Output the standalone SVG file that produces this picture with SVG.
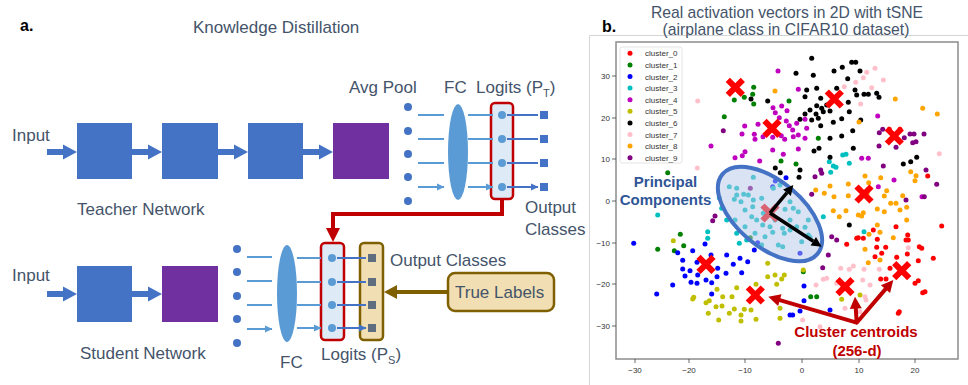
<svg xmlns="http://www.w3.org/2000/svg" width="968" height="385" viewBox="0 0 968 385">
<style>
text{font-family:"Liberation Sans",Arial,sans-serif}
.lbl{fill:#44546A;font-size:17px}
.ttl{fill:#44546A;font-size:15.7px;text-anchor:middle}
.tick{fill:#333;font-size:8px}
.tl{font-size:8px;fill:#333}
.sa{stroke:#5B9BD5;stroke-width:2;fill:none;marker-end:url(#ha)}
.da{stroke:#4472C4;stroke-width:2;fill:none;marker-end:url(#hb)}
.blue{fill:#4472C4}
.purp{fill:#7030A0}
.c0{fill:#FF0000}.c1{fill:#008000}.c2{fill:#0000FF}.c3{fill:#00BFBF}.c4{fill:#BF00BF}
.c5{fill:#BFBF00}.c6{fill:#000000}.c7{fill:#FFC0CB}.c8{fill:#FFA500}.c9{fill:#800080}
.xm{stroke:#FF0000;stroke-width:6;fill:none}
</style>
<defs>
<marker id="ha" markerWidth="8" markerHeight="8" refX="7" refY="4" orient="auto" markerUnits="userSpaceOnUse"><path d="M0,0.5 L7.5,4 L0,7.5 Z" fill="#5B9BD5"/></marker>
<marker id="hb" markerWidth="8" markerHeight="8" refX="7" refY="4" orient="auto" markerUnits="userSpaceOnUse"><path d="M0,0.5 L7.5,4 L0,7.5 Z" fill="#4472C4"/></marker>
<path id="big" d="M0,-3 H16 V-7.5 L30,0 L16,7.5 V3 H0 Z" fill="#4472C4"/>
<path id="xx" d="M-7.5,-7.5 L7.5,7.5 M-7.5,7.5 L7.5,-7.5" class="xm"/>
</defs>
<rect width="968" height="385" fill="#fff"/>

<!-- LEFT PANEL -->
<text x="20" y="31" font-size="16" font-weight="bold" fill="#000">a.</text>
<text x="193" y="33" class="lbl" font-size="16">Knowledge Distillation</text>

<g id="teacher">
<text x="12" y="141" class="lbl" font-size="18">Input</text>
<use href="#big" x="47" y="152"/>
<rect x="77" y="123" width="55" height="56" class="blue"/>
<use href="#big" x="132" y="152"/>
<rect x="162" y="123" width="56" height="56" class="blue"/>
<use href="#big" x="218" y="152"/>
<rect x="248" y="123" width="55" height="56" class="blue"/>
<use href="#big" x="303" y="152"/>
<rect x="333" y="123" width="56" height="56" class="purp"/>
<text x="77" y="215" class="lbl">Teacher Network</text>
</g>

<g id="teacher-head">
<text x="349" y="93" class="lbl" font-size="16">Avg Pool</text>
<text x="444" y="93" class="lbl" font-size="16">FC</text>
<text x="476" y="93" class="lbl" font-size="16">Logits (P<tspan font-size="11" dy="4">T</tspan><tspan dy="-4">)</tspan></text>
<g class="blue"><circle cx="408" cy="107" r="4"/><circle cx="408" cy="131" r="4"/><circle cx="408" cy="154" r="4"/><circle cx="408" cy="177" r="4"/><circle cx="408" cy="201" r="4"/></g>
<ellipse cx="458" cy="152" rx="10" ry="48" fill="#5B9BD5"/>
<rect x="491" y="103" width="22" height="96" rx="4" fill="#DEEBF7" stroke="#C00000" stroke-width="2.5"/>
<g fill="#5B9BD5"><circle cx="502" cy="115" r="4"/><circle cx="502" cy="139" r="4"/><circle cx="502" cy="163" r="4"/><circle cx="502" cy="187" r="4"/></g>
<g class="blue"><rect x="540" y="111" width="8" height="8"/><rect x="540" y="135" width="8" height="8"/><rect x="540" y="159" width="8" height="8"/><rect x="540" y="183" width="8" height="8"/></g>
<text x="525" y="213" class="lbl">Output</text>
<text x="525" y="235" class="lbl">Classes</text>
</g>

<g id="student">
<text x="12" y="281" class="lbl" font-size="18">Input</text>
<use href="#big" x="47" y="294"/>
<rect x="77" y="266" width="55" height="56" class="blue"/>
<use href="#big" x="132" y="294"/>
<rect x="162" y="266" width="56" height="56" class="purp"/>
<text x="80" y="359" class="lbl">Student Network</text>
</g>

<g id="student-head">
<g class="blue"><circle cx="237" cy="249" r="4"/><circle cx="237" cy="272" r="4"/><circle cx="237" cy="296" r="4"/><circle cx="237" cy="319" r="4"/><circle cx="237" cy="343" r="4"/></g>
<ellipse cx="287" cy="293.5" rx="10" ry="48.5" fill="#5B9BD5"/>
<text x="280" y="368" class="lbl" font-size="16">FC</text>
<rect x="321" y="243" width="23" height="97" rx="4" fill="#DEEBF7" stroke="#C00000" stroke-width="2.5"/>
<g fill="#5B9BD5"><circle cx="332" cy="258" r="4"/><circle cx="332" cy="282" r="4"/><circle cx="332" cy="305" r="4"/><circle cx="332" cy="328" r="4"/></g>
<text x="321" y="360" class="lbl" font-size="16">Logits (P<tspan font-size="11" dy="4">S</tspan><tspan dy="-4">)</tspan></text>
</g>

<g id="student-out">
<rect x="360" y="243" width="23" height="97" rx="4" fill="#F1DEB2" stroke="#7F6000" stroke-width="2.5"/>
<g fill="#5E6E7E"><rect x="368" y="254" width="8" height="8"/><rect x="368" y="278" width="8" height="8"/><rect x="368" y="301" width="8" height="8"/><rect x="368" y="324" width="8" height="8"/></g>
<text x="390" y="266" class="lbl">Output Classes</text>
</g>

<g id="true-labels">
<rect x="448" y="273" width="106" height="38" rx="7" fill="#F1DEB2" stroke="#7F6000" stroke-width="2.5"/>
<text x="455" y="298" class="lbl" font-size="16.5">True Labels</text>
</g>

<g id="connectors">
<path class="sa" d="M418,115 H444 M418,139 H444 M418,163 H444 M418,187 H444"/>
<path class="sa" d="M468,115 H493 M468,139 H493 M468,163 H493 M468,187 H493"/>
<path class="da" d="M507,115 H538 M507,139 H538 M507,163 H538 M507,187 H538"/>
<path class="sa" d="M247,257 H272 M247,281 H272 M247,305 H272 M247,329 H272"/>
<path class="sa" d="M297,258 H321 M297,282 H321 M297,305 H321 M297,328 H321"/>
<path class="da" d="M337,258 H366 M337,282 H366 M337,305 H366 M337,328 H366"/>
<path d="M502,199 V214 H333 V229" fill="none" stroke="#C00000" stroke-width="4"/>
<path d="M326,228 L340,228 L333,242 Z" fill="#C00000"/>
<path d="M448,292 H396" fill="none" stroke="#7F6000" stroke-width="4"/>
<path d="M397,285 L384,292 L397,299 Z" fill="#7F6000"/>
</g>

<!-- divider -->
<path d="M589.5,385 V35.5 H968" fill="none" stroke="#D4D4D4" stroke-width="1"/>

<!-- RIGHT PANEL -->
<text x="602" y="32" font-size="16" font-weight="bold" fill="#000">b.</text>
<text x="787" y="18" class="ttl">Real activation vectors in 2D with tSNE</text>
<text x="786" y="35" class="ttl">(airplane class in CIFAR10 dataset)</text>

<g id="axes">
<rect x="616" y="42" width="342" height="317" fill="#fff" stroke="#8C8C8C" stroke-width="1.5"/>
<path d="M612,76 H616 M612,118 H616 M612,159 H616 M612,201 H616 M612,243 H616 M612,284 H616 M612,326 H616 M635,359 V363 M689,359 V363 M745,359 V363 M802,359 V363 M859,359 V363 M915,359 V363" stroke="#444" stroke-width="0.8"/>
<g class="tick" text-anchor="end">
<text x="610" y="79">30</text><text x="610" y="121">20</text><text x="610" y="162">10</text><text x="610" y="204">0</text><text x="610" y="246">−10</text><text x="610" y="287">−20</text><text x="610" y="329">−30</text>
</g>
<g class="tick" text-anchor="middle">
<text x="635" y="373">−30</text><text x="689" y="373">−20</text><text x="745" y="373">−10</text><text x="802" y="373">0</text><text x="859" y="373">10</text><text x="915" y="373">20</text>
</g>
</g>

<g id="dots">
<g class="c0">
<circle cx="941.7" cy="226" r="2.5"/><circle cx="896" cy="226.7" r="2.5"/><circle cx="873.3" cy="230" r="2.5"/><circle cx="877.3" cy="239.3" r="2.5"/><circle cx="858.3" cy="237.7" r="2.5"/><circle cx="846.7" cy="244.3" r="2.5"/><circle cx="885.7" cy="247.3" r="2.5"/><circle cx="876.7" cy="247.3" r="2.5"/><circle cx="875" cy="256.7" r="2.5"/><circle cx="881.7" cy="253.3" r="2.5"/><circle cx="907.7" cy="235" r="2.5"/><circle cx="906" cy="240" r="2.5"/><circle cx="919.3" cy="246.7" r="2.5"/><circle cx="921.7" cy="248.3" r="2.5"/><circle cx="907.3" cy="254" r="2.5"/><circle cx="896.7" cy="257.3" r="2.5"/><circle cx="918.3" cy="260.7" r="2.5"/><circle cx="933.3" cy="258.3" r="2.5"/><circle cx="890" cy="268.3" r="2.5"/><circle cx="880.7" cy="279" r="2.5"/><circle cx="886" cy="279" r="2.5"/><circle cx="918.3" cy="280.7" r="2.5"/><circle cx="922.7" cy="292.7" r="2.5"/><circle cx="925" cy="291.7" r="2.5"/><circle cx="898.3" cy="313.3" r="2.5"/><circle cx="899.3" cy="311.7" r="2.5"/><circle cx="927.7" cy="176" r="2.5"/><circle cx="863.3" cy="238.3" r="2.5"/><circle cx="908.3" cy="240" r="2.5"/><circle cx="856.7" cy="238.3" r="2.5"/><circle cx="915" cy="283.3" r="2.5"/><circle cx="889.3" cy="129.3" r="2.5"/><circle cx="900" cy="129.3" r="2.5"/>
</g>
<g class="c1">
<circle cx="753.7" cy="87.3" r="2.5"/><circle cx="752.7" cy="94.3" r="2.5"/><circle cx="744.3" cy="97.3" r="2.5"/><circle cx="734.3" cy="100" r="2.5"/><circle cx="753.7" cy="104" r="2.5"/><circle cx="789" cy="101" r="2.5"/><circle cx="724.3" cy="116.7" r="2.5"/><circle cx="781" cy="161" r="2.5"/><circle cx="818.3" cy="138.3" r="2.5"/><circle cx="796" cy="164" r="2.5"/><circle cx="680.3" cy="234.3" r="2.5"/><circle cx="683.7" cy="245.7" r="2.5"/><circle cx="657.7" cy="249.3" r="2.5"/><circle cx="674.3" cy="250.7" r="2.5"/><circle cx="750.3" cy="237.7" r="2.5"/><circle cx="803.3" cy="271.7" r="2.5"/><circle cx="810.7" cy="296.7" r="2.5"/><circle cx="816.7" cy="296.7" r="2.5"/><circle cx="667.7" cy="172.7" r="2.5"/>
</g>
<g class="c2">
<circle cx="633.7" cy="243.3" r="2.5"/><circle cx="705" cy="244" r="2.5"/><circle cx="692.7" cy="250.7" r="2.5"/><circle cx="677.7" cy="252.7" r="2.5"/><circle cx="682.7" cy="260.3" r="2.5"/><circle cx="697" cy="262.3" r="2.5"/><circle cx="682.7" cy="269" r="2.5"/><circle cx="690" cy="270.7" r="2.5"/><circle cx="685" cy="276" r="2.5"/><circle cx="697.7" cy="275" r="2.5"/><circle cx="691" cy="282.3" r="2.5"/><circle cx="697" cy="283.3" r="2.5"/><circle cx="706" cy="280" r="2.5"/><circle cx="711.7" cy="282.7" r="2.5"/><circle cx="717" cy="276.7" r="2.5"/><circle cx="726" cy="273.3" r="2.5"/><circle cx="717.7" cy="268.3" r="2.5"/><circle cx="711" cy="255" r="2.5"/><circle cx="726.7" cy="255" r="2.5"/><circle cx="733.3" cy="264.3" r="2.5"/><circle cx="740" cy="258.3" r="2.5"/><circle cx="747.7" cy="261.7" r="2.5"/><circle cx="741.7" cy="272.7" r="2.5"/><circle cx="672.7" cy="285" r="2.5"/><circle cx="656.7" cy="294" r="2.5"/><circle cx="711.7" cy="294" r="2.5"/><circle cx="757.7" cy="242.7" r="2.5"/><circle cx="754.3" cy="250" r="2.5"/><circle cx="790" cy="315" r="2.5"/><circle cx="786" cy="177.7" r="2.5"/><circle cx="775.3" cy="181" r="2.5"/><circle cx="772.7" cy="186.7" r="2.5"/><circle cx="800" cy="253.3" r="2.5"/><circle cx="804" cy="286" r="2.5"/><circle cx="804" cy="300.7" r="2.5"/><circle cx="800" cy="311" r="2.5"/><circle cx="830" cy="310" r="2.5"/><circle cx="792.7" cy="315" r="2.5"/>
</g>
<g class="c3">
<circle cx="657.7" cy="215" r="2.5"/><circle cx="707.7" cy="231.7" r="2.5"/><circle cx="707.7" cy="238.3" r="2.5"/><circle cx="739.3" cy="243.3" r="2.5"/><circle cx="842.7" cy="155" r="2.5"/><circle cx="846" cy="154.3" r="2.5"/><circle cx="833.3" cy="166" r="2.5"/><circle cx="836" cy="167.3" r="2.5"/><circle cx="829.3" cy="161.7" r="2.5"/><circle cx="830.7" cy="172.3" r="2.5"/><circle cx="849.3" cy="163.3" r="2.5"/><circle cx="864" cy="231.7" r="2.5"/><circle cx="823.3" cy="216.7" r="2.5"/>
<circle cx="753.3" cy="177.3" r="2.5"/><circle cx="729.3" cy="186.7" r="2.5"/><circle cx="743.7" cy="194.3" r="2.5"/><circle cx="719.3" cy="197.7" r="2.5"/><circle cx="734.3" cy="199.3" r="2.5"/><circle cx="736.7" cy="188.3" r="2.5"/><circle cx="721.7" cy="208.3" r="2.5"/><circle cx="726.7" cy="220" r="2.5"/><circle cx="735" cy="220" r="2.5"/><circle cx="745" cy="210" r="2.5"/><circle cx="753.3" cy="200" r="2.5"/><circle cx="761.7" cy="198.3" r="2.5"/><circle cx="773.3" cy="188.3" r="2.5"/><circle cx="780" cy="185" r="2.5"/><circle cx="790" cy="201.7" r="2.5"/><circle cx="793.3" cy="208.3" r="2.5"/><circle cx="798.3" cy="211.7" r="2.5"/><circle cx="790" cy="220" r="2.5"/><circle cx="782.7" cy="228.3" r="2.5"/><circle cx="796.7" cy="226.7" r="2.5"/><circle cx="808.3" cy="235" r="2.5"/><circle cx="756.7" cy="220" r="2.5"/><circle cx="755" cy="233.3" r="2.5"/><circle cx="765" cy="236.7" r="2.5"/><circle cx="770" cy="226.7" r="2.5"/><circle cx="745" cy="226.7" r="2.5"/><circle cx="746.7" cy="240" r="2.5"/><circle cx="736.7" cy="233.3" r="2.5"/><circle cx="763.3" cy="213.3" r="2.5"/><circle cx="751.7" cy="216.7" r="2.5"/><circle cx="775" cy="220" r="2.5"/><circle cx="790" cy="230" r="2.5"/><circle cx="778.3" cy="245" r="2.5"/><circle cx="761.7" cy="245" r="2.5"/><circle cx="736.7" cy="195" r="2.5"/><circle cx="748.3" cy="195" r="2.5"/><circle cx="785" cy="209.3" r="2.5"/><circle cx="808.3" cy="220" r="2.5"/><circle cx="741" cy="201.7" r="2.5"/><circle cx="752.7" cy="206.7" r="2.5"/><circle cx="762.7" cy="225" r="2.5"/><circle cx="772.7" cy="232.3" r="2.5"/><circle cx="784.3" cy="233.3" r="2.5"/><circle cx="782.7" cy="246.7" r="2.5"/><circle cx="805" cy="227.3" r="2.5"/><circle cx="810" cy="237.3" r="2.5"/><circle cx="801.7" cy="241.7" r="2.5"/>
</g>
<g class="c4">
<circle cx="778" cy="71" r="2.5"/><circle cx="773" cy="107.7" r="2.5"/><circle cx="775.3" cy="112.7" r="2.5"/><circle cx="781.7" cy="106" r="2.5"/><circle cx="787" cy="110.7" r="2.5"/><circle cx="779.3" cy="117.7" r="2.5"/><circle cx="786.3" cy="121" r="2.5"/><circle cx="789.3" cy="125.7" r="2.5"/><circle cx="744.7" cy="126" r="2.5"/><circle cx="758" cy="124.3" r="2.5"/><circle cx="754.3" cy="134.3" r="2.5"/><circle cx="742" cy="134" r="2.5"/><circle cx="755" cy="139.3" r="2.5"/><circle cx="763" cy="136.7" r="2.5"/><circle cx="772.7" cy="137.3" r="2.5"/><circle cx="781.3" cy="135.7" r="2.5"/><circle cx="784.7" cy="139.3" r="2.5"/><circle cx="711" cy="146" r="2.5"/><circle cx="735" cy="157.7" r="2.5"/><circle cx="742.3" cy="155.7" r="2.5"/><circle cx="745" cy="151.7" r="2.5"/><circle cx="759.7" cy="161" r="2.5"/><circle cx="772.7" cy="150" r="2.5"/><circle cx="783.3" cy="154.3" r="2.5"/><circle cx="798.3" cy="89.3" r="2.5"/><circle cx="805" cy="119.3" r="2.5"/><circle cx="796.7" cy="123.3" r="2.5"/><circle cx="806.7" cy="128.3" r="2.5"/><circle cx="805" cy="138.3" r="2.5"/><circle cx="798.3" cy="135" r="2.5"/><circle cx="792.7" cy="130" r="2.5"/><circle cx="793.3" cy="136.7" r="2.5"/><circle cx="877.7" cy="116" r="2.5"/><circle cx="861.7" cy="158.3" r="2.5"/><circle cx="868.3" cy="158.3" r="2.5"/><circle cx="894" cy="180" r="2.5"/><circle cx="878.3" cy="186.7" r="2.5"/><circle cx="922" cy="196.7" r="2.5"/><circle cx="798.3" cy="149" r="2.5"/>
</g>
<g class="c5">
<circle cx="673.3" cy="240.7" r="2.5"/><circle cx="767.7" cy="263.3" r="2.5"/><circle cx="767.7" cy="276.7" r="2.5"/><circle cx="775" cy="275" r="2.5"/><circle cx="781.7" cy="279" r="2.5"/><circle cx="776.7" cy="284.3" r="2.5"/><circle cx="756" cy="284.3" r="2.5"/><circle cx="736.7" cy="287.7" r="2.5"/><circle cx="717" cy="289.3" r="2.5"/><circle cx="722.7" cy="296.7" r="2.5"/><circle cx="732" cy="296.7" r="2.5"/><circle cx="693.7" cy="297.3" r="2.5"/><circle cx="692.7" cy="299" r="2.5"/><circle cx="709.3" cy="300.7" r="2.5"/><circle cx="706" cy="302.7" r="2.5"/><circle cx="716" cy="306.7" r="2.5"/><circle cx="722" cy="306" r="2.5"/><circle cx="708.3" cy="313.3" r="2.5"/><circle cx="734.3" cy="309" r="2.5"/><circle cx="729.3" cy="313.3" r="2.5"/><circle cx="744.3" cy="309.3" r="2.5"/><circle cx="741" cy="315" r="2.5"/><circle cx="751" cy="310" r="2.5"/><circle cx="718.7" cy="320" r="2.5"/><circle cx="741" cy="321" r="2.5"/><circle cx="756" cy="319.3" r="2.5"/><circle cx="780" cy="308.3" r="2.5"/><circle cx="780" cy="318.3" r="2.5"/><circle cx="784.3" cy="275" r="2.5"/><circle cx="803.3" cy="270" r="2.5"/><circle cx="841.7" cy="299.3" r="2.5"/><circle cx="860" cy="295" r="2.5"/>
</g>
<g class="c6">
<circle cx="811.7" cy="58.3" r="2.5"/><circle cx="796" cy="73.3" r="2.5"/><circle cx="813.3" cy="75.3" r="2.5"/><circle cx="834" cy="71" r="2.5"/><circle cx="842.3" cy="67.3" r="2.5"/><circle cx="851.7" cy="62.3" r="2.5"/><circle cx="855.7" cy="62.3" r="2.5"/><circle cx="860" cy="71" r="2.5"/><circle cx="847.7" cy="78.7" r="2.5"/><circle cx="816.7" cy="88.3" r="2.5"/><circle cx="806.7" cy="90" r="2.5"/><circle cx="805" cy="96.7" r="2.5"/><circle cx="820.7" cy="98.3" r="2.5"/><circle cx="836.7" cy="88.3" r="2.5"/><circle cx="855" cy="90" r="2.5"/><circle cx="856.7" cy="95" r="2.5"/><circle cx="864" cy="94.3" r="2.5"/><circle cx="868.3" cy="94.3" r="2.5"/><circle cx="876.7" cy="93.3" r="2.5"/><circle cx="879" cy="97.3" r="2.5"/><circle cx="848.3" cy="102.3" r="2.5"/><circle cx="826.7" cy="105" r="2.5"/><circle cx="816.7" cy="105.7" r="2.5"/><circle cx="810" cy="110" r="2.5"/><circle cx="821.7" cy="108.3" r="2.5"/><circle cx="823.3" cy="111.7" r="2.5"/><circle cx="830" cy="111" r="2.5"/><circle cx="816" cy="114" r="2.5"/><circle cx="805" cy="114" r="2.5"/><circle cx="800" cy="119.3" r="2.5"/><circle cx="811.7" cy="120" r="2.5"/><circle cx="818.3" cy="118.3" r="2.5"/><circle cx="849.3" cy="111.7" r="2.5"/><circle cx="841.7" cy="118.7" r="2.5"/><circle cx="833.3" cy="122.3" r="2.5"/><circle cx="820.7" cy="125.7" r="2.5"/><circle cx="841.7" cy="136" r="2.5"/><circle cx="830" cy="138.3" r="2.5"/><circle cx="860.7" cy="120" r="2.5"/><circle cx="852.7" cy="130.7" r="2.5"/><circle cx="814" cy="151" r="2.5"/><circle cx="819" cy="148.3" r="2.5"/><circle cx="830" cy="157.3" r="2.5"/><circle cx="853.3" cy="148.3" r="2.5"/><circle cx="903.3" cy="164" r="2.5"/><circle cx="910.7" cy="161.7" r="2.5"/><circle cx="916.7" cy="157.3" r="2.5"/><circle cx="800" cy="170" r="2.5"/><circle cx="799" cy="177.3" r="2.5"/><circle cx="751" cy="99" r="2.5"/><circle cx="767.7" cy="101" r="2.5"/><circle cx="775.3" cy="168" r="2.5"/><circle cx="780.3" cy="172.7" r="2.5"/><circle cx="849.3" cy="225" r="2.5"/>
</g>
<g class="c7">
<circle cx="697.7" cy="101" r="2.5"/><circle cx="697.3" cy="168" r="2.5"/><circle cx="866.7" cy="72.3" r="2.5"/><circle cx="875" cy="68.3" r="2.5"/><circle cx="863.3" cy="77.7" r="2.5"/><circle cx="855.7" cy="82.3" r="2.5"/><circle cx="871.7" cy="87.7" r="2.5"/><circle cx="883.3" cy="80" r="2.5"/><circle cx="844.3" cy="86.7" r="2.5"/><circle cx="860.7" cy="104" r="2.5"/><circle cx="939.3" cy="153.7" r="2.5"/><circle cx="840.7" cy="268.3" r="2.5"/><circle cx="849.3" cy="269.3" r="2.5"/><circle cx="853.3" cy="266" r="2.5"/><circle cx="864" cy="269.3" r="2.5"/><circle cx="879.3" cy="269.3" r="2.5"/><circle cx="862.7" cy="280" r="2.5"/><circle cx="870" cy="285" r="2.5"/><circle cx="823.3" cy="279.3" r="2.5"/><circle cx="816" cy="285" r="2.5"/><circle cx="865" cy="296.7" r="2.5"/><circle cx="866" cy="300" r="2.5"/><circle cx="845" cy="308.3" r="2.5"/><circle cx="860" cy="311.7" r="2.5"/><circle cx="802.7" cy="320" r="2.5"/><circle cx="820" cy="326.7" r="2.5"/><circle cx="836.7" cy="283.3" r="2.5"/><circle cx="908.3" cy="247.7" r="2.5"/><circle cx="826.7" cy="278.3" r="2.5"/>
</g>
<g class="c8">
<circle cx="775" cy="91" r="2.5"/><circle cx="895.3" cy="99" r="2.5"/><circle cx="922.7" cy="108.3" r="2.5"/><circle cx="937.3" cy="114" r="2.5"/><circle cx="859" cy="122" r="2.5"/><circle cx="865" cy="176" r="2.5"/><circle cx="880.7" cy="177.7" r="2.5"/><circle cx="868.7" cy="182.7" r="2.5"/><circle cx="848.3" cy="184" r="2.5"/><circle cx="830" cy="186" r="2.5"/><circle cx="815.7" cy="190" r="2.5"/><circle cx="824.3" cy="193.3" r="2.5"/><circle cx="834" cy="196.7" r="2.5"/><circle cx="848.3" cy="195.7" r="2.5"/><circle cx="886.7" cy="190.7" r="2.5"/><circle cx="910.7" cy="171.7" r="2.5"/><circle cx="916" cy="175.7" r="2.5"/><circle cx="915" cy="180.7" r="2.5"/><circle cx="884.3" cy="196" r="2.5"/><circle cx="902.7" cy="195.7" r="2.5"/><circle cx="867.3" cy="192.7" r="2.5"/><circle cx="833.3" cy="210.7" r="2.5"/><circle cx="839.3" cy="216.7" r="2.5"/><circle cx="846" cy="210.7" r="2.5"/><circle cx="858.3" cy="215" r="2.5"/><circle cx="863.3" cy="212.7" r="2.5"/><circle cx="861.7" cy="216" r="2.5"/><circle cx="877.3" cy="209" r="2.5"/><circle cx="884.3" cy="211.7" r="2.5"/><circle cx="890.7" cy="203.3" r="2.5"/><circle cx="896" cy="203.3" r="2.5"/><circle cx="906.7" cy="207.3" r="2.5"/><circle cx="906.7" cy="220" r="2.5"/><circle cx="900" cy="210" r="2.5"/><circle cx="877.3" cy="225" r="2.5"/><circle cx="869" cy="234.3" r="2.5"/><circle cx="880" cy="232.3" r="2.5"/><circle cx="893.3" cy="237.7" r="2.5"/><circle cx="865" cy="249.3" r="2.5"/><circle cx="880" cy="260" r="2.5"/><circle cx="868.3" cy="262.7" r="2.5"/>
</g>
<g class="c9">
<circle cx="723.3" cy="130.7" r="2.5"/><circle cx="879.3" cy="132.7" r="2.5"/><circle cx="882.7" cy="129.3" r="2.5"/><circle cx="904.3" cy="137.7" r="2.5"/><circle cx="910" cy="134" r="2.5"/><circle cx="914" cy="134" r="2.5"/><circle cx="912.7" cy="142.7" r="2.5"/><circle cx="916" cy="141.7" r="2.5"/><circle cx="924" cy="134" r="2.5"/><circle cx="879" cy="146" r="2.5"/><circle cx="896" cy="147.3" r="2.5"/><circle cx="883.3" cy="166" r="2.5"/><circle cx="926" cy="170" r="2.5"/><circle cx="936.7" cy="184.3" r="2.5"/><circle cx="820.7" cy="170" r="2.5"/><circle cx="815" cy="176.7" r="2.5"/><circle cx="821.7" cy="173.3" r="2.5"/><circle cx="924.3" cy="196.7" r="2.5"/><circle cx="906" cy="200" r="2.5"/><circle cx="811.7" cy="194.3" r="2.5"/><circle cx="750.3" cy="188.3" r="2.5"/><circle cx="715" cy="216" r="2.5"/><circle cx="712.7" cy="220.7" r="2.5"/><circle cx="778.3" cy="343.3" r="2.5"/><circle cx="831.7" cy="236.7" r="2.5"/><circle cx="836.7" cy="240" r="2.5"/><circle cx="828.3" cy="255" r="2.5"/><circle cx="822.7" cy="267.7" r="2.5"/>
</g>
</g>

<g id="centroids">
<use href="#xx" x="735.3" y="87.3"/><use href="#xx" x="772" y="128.3"/><use href="#xx" x="834.3" y="99"/><use href="#xx" x="894.3" y="136"/><use href="#xx" x="864" y="194"/><use href="#xx" x="770" y="213"/><use href="#xx" x="706" y="264.3"/><use href="#xx" x="755.3" y="295"/><use href="#xx" x="845" y="286.7"/><use href="#xx" x="901.7" y="270.7"/>
</g>

<g id="pca">
<ellipse cx="770" cy="214" rx="62" ry="33" transform="rotate(40 770 214)" fill="#B4C7E7" fill-opacity="0.5" stroke="#4472C4" stroke-width="4"/>
<path d="M770,213 L787,192.7 M770,213 L813.3,241.2" stroke="#000" stroke-width="3.5" fill="none"/>
<path d="M793.3,185 L790.9,195.9 L783.1,189.5 Z M821.7,246.7 L810.6,245.4 L816,237 Z" fill="#000"/>
<text x="665.5" y="187" font-size="15" font-weight="bold" fill="#2F5597" text-anchor="middle">Principal</text>
<text x="665.5" y="205" font-size="15" font-weight="bold" fill="#2F5597" text-anchor="middle">Components</text>
</g>

<g id="legend">
<rect x="620" y="47" width="62" height="116" rx="2" fill="#fff" fill-opacity="0.85" stroke="#DDD" stroke-width="0.8"/>
<circle cx="630" cy="53.3" r="2.5" class="c0"/><text x="645" y="56.3" class="tl">cluster_0</text>
<circle cx="630" cy="64.9" r="2.5" class="c1"/><text x="645" y="67.9" class="tl">cluster_1</text>
<circle cx="630" cy="76.5" r="2.5" class="c2"/><text x="645" y="79.5" class="tl">cluster_2</text>
<circle cx="630" cy="88.1" r="2.5" class="c3"/><text x="645" y="91.1" class="tl">cluster_3</text>
<circle cx="630" cy="99.7" r="2.5" class="c4"/><text x="645" y="102.7" class="tl">cluster_4</text>
<circle cx="630" cy="111.3" r="2.5" class="c5"/><text x="645" y="114.3" class="tl">cluster_5</text>
<circle cx="630" cy="122.9" r="2.5" class="c6"/><text x="645" y="125.9" class="tl">cluster_6</text>
<circle cx="630" cy="134.5" r="2.5" class="c7"/><text x="645" y="137.5" class="tl">cluster_7</text>
<circle cx="630" cy="146.1" r="2.5" class="c8"/><text x="645" y="149.1" class="tl">cluster_8</text>
<circle cx="630" cy="157.7" r="2.5" class="c9"/><text x="645" y="160.7" class="tl">cluster_9</text>
</g>

<g id="centroid-callout">
<path d="M856.7,322.7 L779.8,300.1 M856.7,322.7 L855.8,308.7 M856.7,322.7 L885.5,289.1" stroke="#C00000" stroke-width="4" fill="none" stroke-linecap="round"/>
<path d="M768.3,296.7 L781.5,294.3 L778.1,305.9 Z M855,296.7 L861.8,308.3 L849.8,309.1 Z M893.3,280 L890.1,293 L880.9,285.2 Z" fill="#C00000"/>
<text x="856" y="337" font-size="15" font-weight="bold" fill="#C00000" text-anchor="middle">Cluster centroids</text>
<text x="857" y="356" font-size="15" font-weight="bold" fill="#C00000" text-anchor="middle">(256-d)</text>
</g>
</svg>
